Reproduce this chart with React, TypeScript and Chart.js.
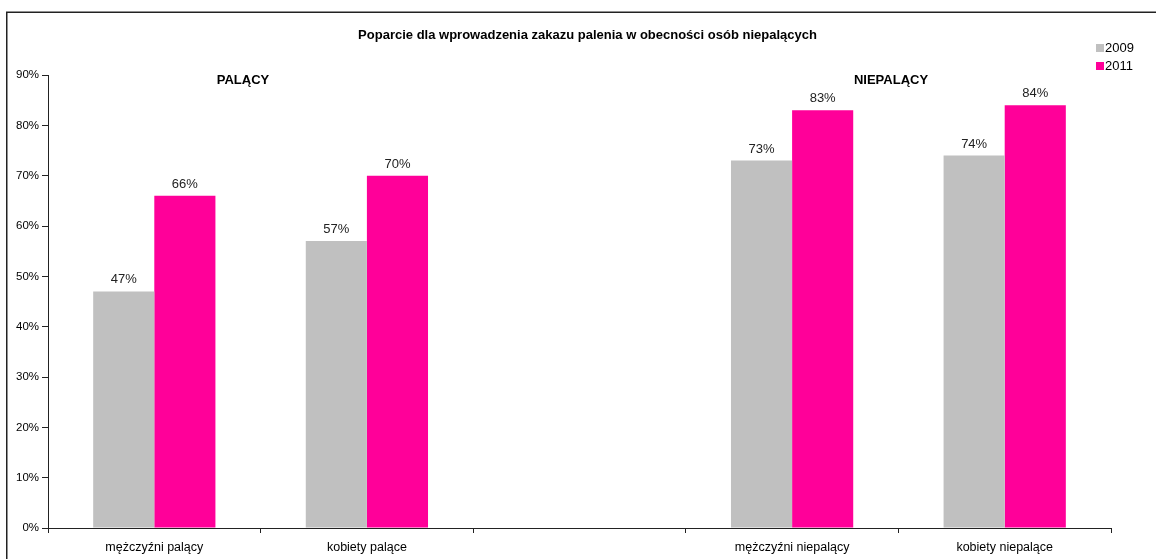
import React, { useEffect, useRef } from "react";
import { Chart, registerables } from "chart.js";

Chart.register(...registerables);

const categories = ["mężczyźni palący", "kobiety palące", "", "mężczyźni niepalący", "kobiety niepalące"];
const values2009: (number | null)[] = [47, 57, null, 73, 74];
const values2011: (number | null)[] = [66, 70, null, 83, 84];
const seriesNames = ["2009", "2011"];
const seriesColors = ["#C0C0C0", "#FF0099"];
const yTicks = [0, 10, 20, 30, 40, 50, 60, 70, 80, 90];
const chartTitle = "Poparcie dla wprowadzenia zakazu palenia w obecności osób niepalących";
const groupLabels = [
  { text: "PALĄCY", x: 243 },
  { text: "NIEPALĄCY", x: 891 },
];

const FONT = "Arial, 'Liberation Sans', sans-serif";

const decorPlugin = {
  id: "decor",
  beforeDraw(chart: any) {
    const ctx = chart.ctx;
    ctx.save();
    ctx.fillStyle = "#fff";
    ctx.fillRect(0, 0, chart.width, chart.height);
    ctx.strokeStyle = "#222";
    ctx.lineWidth = 1.5;
    ctx.strokeRect(6.75, 12.25, chart.width + 10, chart.height + 10);
    ctx.restore();
  },
  afterDraw(chart: any) {
    const ctx = chart.ctx;
    ctx.save();
    ctx.fillStyle = "#000";
    ctx.textAlign = "center";
    ctx.textBaseline = "middle";
    ctx.font = `bold 13px ${FONT}`;
    ctx.fillText(chartTitle, 587.5, 35);
    for (const g of groupLabels) ctx.fillText(g.text, g.x, 80);
    // legend
    ctx.font = `13px ${FONT}`;
    ctx.textAlign = "left";
    seriesNames.forEach((n, i) => {
      ctx.fillStyle = seriesColors[i];
      ctx.fillRect(1096, 44 + i * 18, 8, 8);
      ctx.fillStyle = "#000";
      ctx.fillText(n, 1105, 48.5 + i * 18);
    });
    // data labels
    ctx.font = `13px ${FONT}`;
    ctx.textAlign = "center";
    ctx.textBaseline = "alphabetic";
    ctx.fillStyle = "#222";
    chart.data.datasets.forEach((ds: any, di: number) => {
      const meta = chart.getDatasetMeta(di);
      meta.data.forEach((bar: any, i: number) => {
        const v = ds.data[i];
        if (v === null || v === undefined) return;
        ctx.fillText(`${v}%`, bar.x, bar.y - 8);
      });
    });
    ctx.restore();
  },
};

export default function App() {
  const ref = useRef<HTMLCanvasElement>(null);
  useEffect(() => {
    document.body.style.margin = "0";
    const chart = new Chart(ref.current as HTMLCanvasElement, {
      type: "bar",
      data: {
        labels: categories,
        datasets: [
          { label: seriesNames[0], data: values2009, backgroundColor: seriesColors[0], borderWidth: 0 },
          { label: seriesNames[1], data: values2011, backgroundColor: seriesColors[1], borderWidth: 0 },
        ],
      },
      options: {
        animation: false,
        responsive: false,
        devicePixelRatio: 1,
        layout: { padding: { top: 75, right: 45, left: 0, bottom: 0 } },
        plugins: { legend: { display: false }, title: { display: false }, tooltip: { enabled: false } },
        datasets: { bar: { categoryPercentage: 0.575, barPercentage: 1 } },
        scales: {
          x: {
            offset: true,
            grid: { display: true, drawOnChartArea: false, drawTicks: true, tickLength: 5, color: "#222", offset: true },
            border: { display: true, color: "#222", width: 1 },
            ticks: { color: "#000", font: { family: FONT, size: 12.5 }, padding: 7, maxRotation: 0, autoSkip: false },
            afterFit: (s: any) => { s.height = 31; },
          },
          y: {
            min: 0,
            max: 90,
            afterBuildTicks: (s: any) => { s.ticks = yTicks.map((v) => ({ value: v })); },
            grid: { display: true, drawOnChartArea: false, drawTicks: true, tickLength: 6, color: "#222" },
            border: { display: true, color: "#222", width: 1 },
            ticks: { color: "#000", font: { family: FONT, size: 11.5 }, padding: 3, callback: (v: any) => `${v}%` },
            afterFit: (s: any) => { s.width = 48; },
          },
        },
      },
      plugins: [decorPlugin],
    });
    return () => chart.destroy();
  }, []);
  return <canvas ref={ref} width={1156} height={559} style={{ display: "block" }} />;
}
